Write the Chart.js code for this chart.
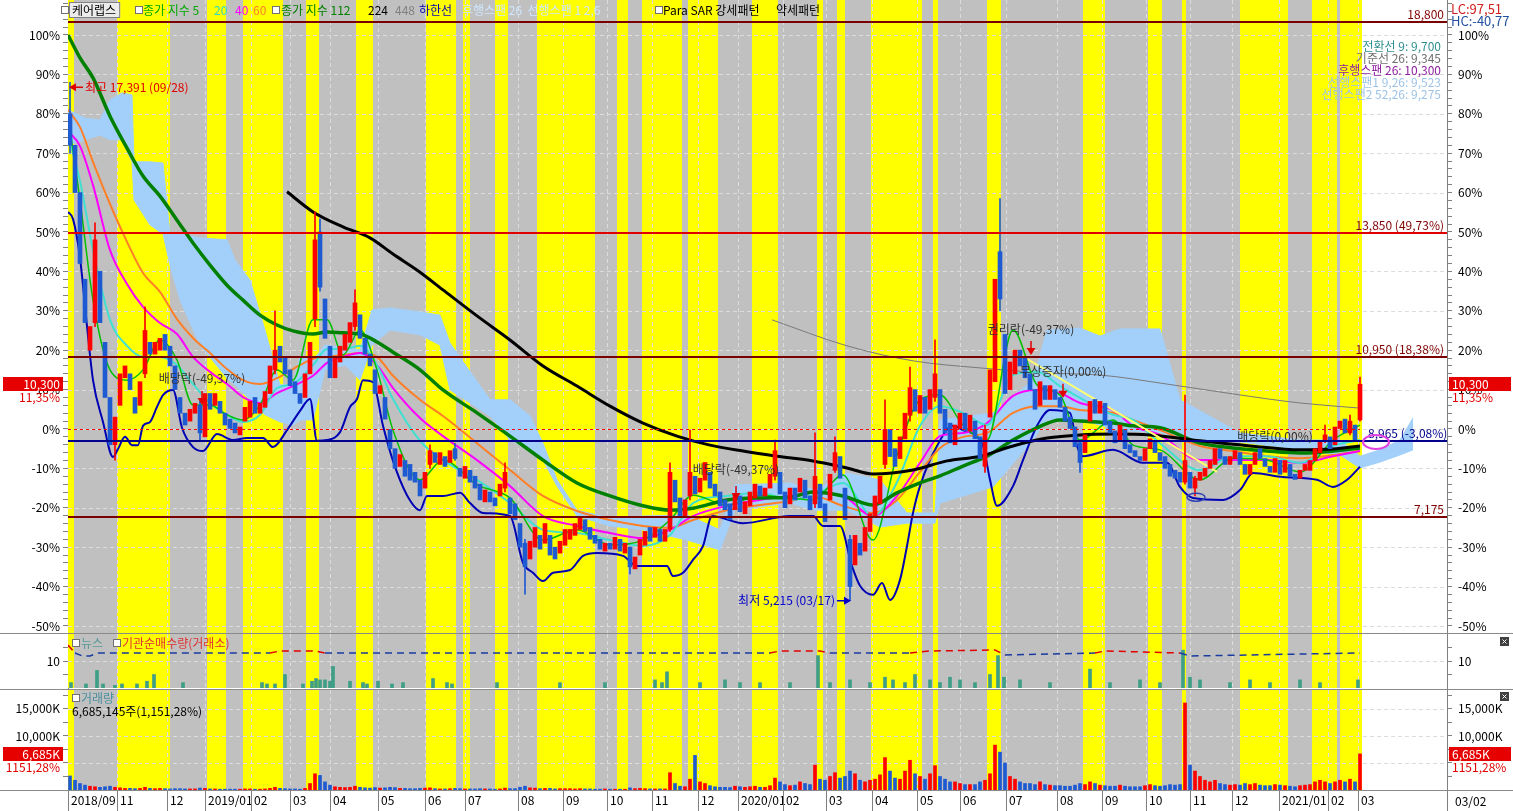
<!DOCTYPE html>
<html>
<head>
<meta charset="utf-8">
<title>케어랩스</title>
<script src="https://cdn.jsdelivr.net/npm/chart.js@4.4.1/dist/chart.umd.min.js"></script>
<style>
  html, body { margin:0; padding:0; background:#fff; }
  #wrap { position:relative; width:1513px; height:811px; overflow:hidden; background:#fff; }
  canvas { position:absolute; left:0; }
  #c1 { top:0; } #c2 { top:634px; } #c3 { top:689px; }
  .sep { position:absolute; left:0; width:1513px; height:1px; background:#8a8a8a; }
</style>
</head>
<body>
<div id="wrap">
  <canvas id="c1" width="1513" height="634"></canvas>
  <canvas id="c2" width="1513" height="55"></canvas>
  <canvas id="c3" width="1513" height="122"></canvas>
  <div class="sep" style="top:633px"></div>
  <div class="sep" style="top:689px"></div>
  <div class="sep" style="top:790px"></div>
</div>
<script>
// ---------------- DATA ----------------
const BASE_PRICE = 9250;          // 0% reference price (won)
const LAST_PRICE = 10300;
// x unit: one candle slot (~2.4 trading days); candle i sits at x = i
const MONTH_U   = [-0.4,9.4,19.4,27,36.2,44,52,61.6,71,79,89.6,98.6,107.4,116.4,125.6,133.6,142.6,151.2,160.4,169.4,178,187.2,197.4,206.4,215.2,224,232.4,241.8,251.6,257.6];
const MONTH_LBL = ['2018/09','11','12','2019/01','02','03','04','05','06','07','08','09','10','11','12','2020/01','02','03','04','05','06','07','08','09','10','11','12','2021/01','02','03'];
// Para SAR strong (yellow) / weak (gray) periods, alternating, starting strong
const BAND_EDGES = [-0.4,0.8,9.4,20,27.4,31.2,34.6,42.6,47.2,49.8,57.2,60.6,71.2,77.2,78.6,80,85,87.6,93.4,105,109.4,111.6,114.4,122.4,123.6,129.6,136.4,141.6,149.4,150.6,153.4,155,160.2,170.4,172.6,173.6,183.4,186.2,202.6,207,215.6,218.4,222.4,223.2,234,243.6,248.4,253.4,254,258.4];

// candles, % vs base price
const OPEN = [80,72,60,38,20,27,40,22,8,-4,
6,13,14,8,6,14,22,19,20,24,
21,16,8,4,2,4,6,-2,9,6,
7,4,2.5,1.5,-1.5,2,3,8,4,5.5,
9,15,21,18,15,12,9,8,14,28,
50,33,21,13,17,20,22,26,29,23,
19,15,9,8,0,-5,-9.5,-8,-9,-11,
-13,-15,-9,-6,-9,-7,-8.5,-5,-10,-12.5,
-10.5,-12,-14,-18.5,-16,-17.5,-17,-15,-17.5,-19,
-24,-29,-33,-30,-27,-29,-27,-30,-31.5,-29.5,
-28,-27,-25.5,-23,-25,-27,-28,-31,-29,-30.5,
-28,-31.5,-30,-35.5,-32,-29.5,-25,-27.5,-25.5,-28.5,
-25.5,-13,-17.5,-22,-17,-12,-16,-13,-11,-14,
-16,-18,-19,-20.5,-17,-21.5,-19.5,-17.5,-14.5,-17,
-15,-12,-11,-16,-19,-15,-16,-13,-17,-19,
-14,-19,-18,-10.5,-7,-15,-28,-34.5,-29,-31,
-26,-22,-19,-9,0,-5,-7.5,-2.5,3.5,10,
4,8,5,8,10,5,1.5,-4,0,4,
-0.5,2,-2,-9.5,3,12,45,24,10,14,
20,18,14,10,6,11,7.5,10,8,5.5,
3,0.5,-3.5,-6,2,7.5,4,6.5,2,-0.5,
-3,0,-4,-5.5,-7,-8,-5,-3,-6,-7,
-9,-10.5,-11,-13.5,-11,-15,-13,-12,-10,-9,
-5,-7,-9,-7.5,-6,-9,-11.5,-9,-5,-7.5,
-9.5,-11,-8,-11,-9,-11.5,-12.5,-10.5,-10.5,-8,
-6,-3,-2,-4,0,2.5,-1,1,2.3];
const CLOSE = [72,60,42,27,26,48,27,8,-4,3,
14,16,10,4,12,25,19,22,23,20,
16,10,4,1,5,6.5,-1,9,5,9,
4,1,0,-1,0.5,5.5,7,4,6.5,9.5,
16,20,17,14,11,9,6.5,14,22,48,
36,23,13,18,21,24,27,32,23,19,
16,9,11,2.5,-5,-10,-6.5,-12,-13,-13.5,
-17,-11,-5.5,-8.5,-6,-9.5,-5.5,-7.5,-12,-9.5,
-13.5,-15,-18,-15.5,-18.5,-19.5,-14,-11,-21.5,-23,
-30,-35,-28.5,-25,-30.5,-24,-32,-33,-28.5,-25.5,
-25.5,-24,-22.5,-26,-28,-29,-30.5,-29,-30.5,-27.5,
-31,-29,-35,-32.5,-28,-26,-28.5,-25,-28.5,-25.5,
-11,-18.5,-22,-18,-11,-16.5,-12.5,-8.5,-15,-17,
-19.5,-20.5,-23,-16.5,-21,-18.5,-16,-14,-17,-15,
-11.5,-5.5,-16.5,-20,-15,-18,-12.5,-17.5,-20.5,-12,
-20,-23.5,-11.5,-6,-12.5,-23,-40,-27,-32,-25,
-21.5,-17,-12,0,-7,-9.5,-2,4,10.5,4.5,
8.5,4,10,14,4,-1,-3.5,1,4,-0.5,
3.5,-2.5,-7.5,0,15,38,33,9,17,20,
16,13,10,5,12,7.5,11,7.5,5.5,2,
0,-4.5,-8.5,-1.5,7,4,7,1,-1,-3.5,
1,-5,-6,-7,-8,-5,-2.5,-6,-8,-10,
-12,-12.5,-13.5,-8,-15,-12.5,-11,-10,-8,-5,
-7.5,-9,-7,-5.5,-9,-11.5,-9,-6,-7.5,-9.5,
-11,-7.5,-11.5,-8,-12,-12.8,-10.5,-9,-8,-5,
-3,-1.5,-5,0.5,2,-1,2,-3,11.35];
// notable shadows: [candle, low, high]
const WICKS = [[0,70,88.0],[5,26,52.3],[9,-7.9,3],[15,13,31],[26,-3,7],[41,14,30],[49,26,55.1],[50,35,53.3],[57,25,35.3],[72,-10,-4],[77,-8,-3.6],[87,-16,-8.6],[91,-41.9,-28],[112,-36.8,-30],[120,-26,-8.6],[124,-18,-0.3],[141,-13,-2.8],[149,-20,-1],[153,-11,-2],[156,-43.6,-27],[163,-10,7.4],[168,2,15.7],[173,7,22.6],[183,-11,1],[186,30,58.5],[202,-11,-3],[223,-14,8.6],[225,-17,-12],[251,-3.5,1],[256,-1.5,3.5],[258,2,13.2]];
// volume, thousand shares
const VOLUME = [2600,1800,1200,900,700,600,500,600,700,500,
400,300,300,250,300,500,300,250,300,250,
200,250,250,200,200,200,350,300,200,200,
150,150,150,150,150,200,200,150,150,200,
300,500,300,250,200,200,150,300,1200,3000,
2700,1500,900,600,500,450,500,700,500,400,
350,450,350,400,500,450,300,300,250,250,
300,350,400,250,200,200,250,300,250,200,
200,200,250,200,200,150,200,350,250,250,
500,700,400,350,250,300,300,200,250,250,
250,200,250,200,200,150,150,200,150,150,
150,150,400,250,300,250,200,200,200,200,
3200,1200,700,600,2000,6400,1500,1200,800,600,
500,500,450,700,600,500,600,700,500,500,
800,2200,1500,1000,800,900,1500,1200,1000,4600,
2000,1800,2500,3200,2200,2500,3500,3000,1800,1500,
1800,2000,2800,6000,3500,2200,2000,3500,5500,3000,
2500,2000,3000,4500,2500,2000,1500,1500,1200,1000,
1000,1000,1500,1800,3000,8300,7000,5000,2500,2000,
1500,1200,1200,1000,1500,1000,900,800,800,700,
700,900,1200,1000,1500,1200,900,800,700,700,
900,700,600,600,600,800,1000,800,700,800,
1000,900,1000,16100,4600,3500,2500,1800,1500,1800,
1200,1000,900,1000,900,1200,1000,1200,900,800,
800,1000,900,800,700,600,800,900,1000,1500,
1800,1500,1200,1500,1800,1500,2000,1500,6685];

// moving averages (sampled), %
const MA_U   = [-0.4,2,4.6,8,11.4,14.6,18,21.4,24.6,28,31.4,34.6,38,41.4,44.6,48.6,51.4,54.6,58,61.4,64.6,70,74.6,81.4,88,94.6,101.4,108,114.6,120,124.6,131.4,138,144,148.6,154.6,160.6,165.4,170,174,178.6,183.4,188.6,193.4,198,202,208.6,212.6,218,226,232.6,239.4,246,252.6,258];
const MA5    = [79.7,58.1,32.7,15.0,12.4,15.0,22.6,17.5,6.1,6.1,3.6,2.3,6.1,15.0,12.4,27.7,27.7,18.8,25.1,15.0,-0.3,-12.9,-7.9,-14.2,-17.5,-28.2,-25.6,-29.4,-28.2,-23.1,-16.8,-19.3,-16.8,-17.5,-18.0,-11.7,-28.2,-6.6,7.4,8.6,1.0,-2.8,25.1,11.2,8.6,-2.8,2.3,-4.1,-5.3,-12.9,-7.4,-7.9,-10.9,-2.8,1.0];
const MA20   = [74.6,62.9,45.4,27.7,21.1,18.3,18.3,16.2,11.4,6.6,3.6,1.8,3.6,10.4,11.4,16.2,20.3,20.3,21.1,16.2,7.6,-3.0,-7.9,-12.9,-18.8,-25.6,-26.4,-28.2,-29.7,-26.9,-18.8,-17.0,-16.2,-18.0,-16.8,-13.7,-22.1,-13.5,0.8,5.8,4.1,1.0,13.7,14.5,10.9,7.9,3.6,2.3,-3.6,-10.4,-6.9,-6.9,-8.6,-4.3,-2.8];
const MA40   = [75.6,71.8,61.9,45.4,36.8,31.0,26.9,24.1,18.3,14.5,11.4,8.1,6.6,9.1,10.9,13.5,16.8,18.3,19.3,16.2,10.4,2.8,-1.8,-7.9,-14.5,-22.1,-24.6,-26.4,-27.7,-25.6,-22.1,-19.5,-18.0,-17.0,-16.2,-17.0,-22.1,-17.0,-8.6,-1.8,-1.0,1.5,8.4,9.9,9.1,6.6,4.8,0.8,-1.5,-7.9,-7.9,-7.9,-8.6,-6.9,-5.6];
const MA60   = [81.0,76.6,67.8,57.1,47.5,39.6,34.8,27.9,23.1,19.3,15.2,12.4,11.4,12.9,15.2,17.8,18.3,18.8,19.3,18.3,13.5,7.4,3.3,-3.6,-10.4,-17.0,-20.8,-23.1,-24.6,-25.1,-23.1,-20.6,-19.3,-18.3,-17.0,-19.5,-21.3,-18.0,-10.9,-4.8,-2.0,-1.0,4.1,5.8,5.8,4.8,4.1,2.3,-0.3,-4.3,-5.6,-6.9,-7.4,-6.6,-5.6];
const MA112  = [100,94.2,89.1,79.4,71.3,64.2,59.1,53.0,47.2,41.6,36.5,32.7,28.9,26.4,24.9,24.1,24.6,24.4,24.1,22.1,19.5,15.0,9.9,4.1,-1.8,-7.9,-13.7,-17.0,-19.5,-20.6,-20.1,-18.0,-17.5,-17.3,-16.0,-17.0,-19.3,-16.2,-13.7,-11.9,-9.4,-6.9,-2.8,0.3,2.3,2.0,1.5,0.8,0.3,-3.6,-4.8,-5.6,-6.1,-5.6,-4.8];
const MA224_U = [43.4,48.6,54.6,60,64.6,70,74.6,81.4,88,94.6,101.4,108,114.6,121.4,128,134.6,141.4,148.6,155.4,160.6,168.6,175.4,182,188.6,195.4,202,208.6,216,226,236,246,252.6,258];
const MA224   = [60.2,55.1,51.3,48.5,44.4,39.8,35.3,28.7,22.6,16.0,10.9,5.8,1.5,-1.8,-4.1,-5.6,-6.9,-8.1,-9.9,-11.4,-10.4,-8.1,-6.9,-4.3,-2.3,-1.5,-1.3,-1.5,-3.0,-4.3,-5.3,-5.1,-4.3];
const MA448_U = [140.4,155.4,168.6,182,195.4,206,219.4,232.6,246,258];
const MA448   = [27.7,21.1,17.3,15.5,14.2,13.7,11.4,8.9,6.6,5.3];
// lower band (하한선)
const LOW_U = [-0.4,0.6,2,3.4,4.6,6.6,8.6,9.6,11,12.4,13.6,14.6,16,17.4,18.6,20.6,22.4,24.6,26.6,29.4,32.6,35.4,38.6,40.6,43.4,46,48,49.4,51.4,54,56,57.4,58.6,60.6,62.6,64.6,67.4,70,71.4,74.6,78,80,82.6,88,90.6,92.6,94.6,96.6,100,102.6,105.4,110.6,113.4,119.4,120.6,122.6,124.6,126.6,128.4,134.6,144,148.6,150.6,154,156.4,158,160.6,162.4,164,166,167.4,168.6,170,173.4,176.6,178.6,182.6,184,185.4,188.6,190.6,193.4,196,200,201.4,202.6,208.6,214.6,219.4,222,224.6,230.6,234,236.6,242.6,249.4,252.6,255.4,258];
const LOW_V = [55.1,53.3,43.4,26.1,12.4,1.8,-7.1,-5.1,-2.0,-4.1,-4.1,0.8,1.8,5.6,8.6,9.9,0.3,-4.6,-5.6,-1.3,-2.8,-2.3,-2.3,-4.6,-0.3,4.6,7.6,-3.0,-2.8,-0.8,5.6,7.6,12.4,11.9,0.8,-8.1,-16.8,-20.6,-17.0,-17.0,-16.2,-18.8,-21.3,-22.1,-34.0,-36.5,-38.6,-36.5,-35.8,-32.2,-31.5,-32.2,-34.8,-34.8,-37.3,-36.5,-33.2,-29.7,-22.1,-23.9,-22.1,-22.1,-24.6,-24.6,-34.8,-39.8,-42.1,-39.1,-43.4,-38.3,-29.7,-21.3,-14.5,-4.3,0.8,-0.3,-4.3,-12.9,-19.5,-14.5,-7.9,0.8,4.8,4.1,-4.3,-6.9,-5.3,-8.6,-8.6,-14.7,-17.5,-18.0,-15.5,-11.2,-12.2,-12.9,-14.7,-12.9,-9.6];
// ichimoku cloud edges
const CLOUD_U  = [-0.4,3,6,8,10.4,12.4,12.8,16,18.6,20,22,26,31.4,33,36,39,42,44.6,46,48.6,51,55,58,60.4,64,70,74,76,84,88,92,94.6,97.4,101.4,108,114.6,123.4,130,133,144,149,155.4,162,167.4,173,174,184.6,192.6,195.4,202,206,210,218,222,234,246,254,258,262,266,268.6];
const CLOUD_HI = [81.0,78.9,78.4,83.5,85.3,84.8,67.8,67.8,67.5,49.5,49.5,48.5,48.0,42.9,37.8,25.1,11.2,11.2,18.3,17.5,21.3,20.6,20.1,30.2,30.7,29.7,28.9,21.8,7.4,7.4,3.3,-3.6,-12.9,-20.6,-22.6,-22.1,-21.8,-25.6,-14.2,-13.7,-15.5,-11.2,-12.9,-21.3,-21.3,2.3,4.1,12.4,25.1,25.6,23.6,25.4,25.4,7.4,-1.0,-2.8,-2.8,-6.9,-5.3,-2.8,2.8];
const CLOUD_LO = [72.1,73.4,74.6,73.4,73.4,67.8,58.1,51.8,49.5,41.6,32.7,21.3,12.9,11.2,7.4,3.6,1.8,1.0,2.3,2.3,15.0,16.2,12.4,21.3,25.1,23.9,21.3,9.9,3.3,-2.8,-5.3,-7.9,-14.5,-22.1,-24.6,-25.6,-28.2,-30.7,-20.6,-18.8,-20.6,-20.6,-24.9,-23.9,-23.9,-18.8,-14.7,-2.8,2.3,2.3,1.0,-0.3,-1.0,-2.3,-3.3,-5.3,-6.6,-9.9,-8.4,-6.6,-5.3];
const TREND_U = [188.4, 229.4];
const TREND_V = [20.05, -10.9];
// horizontal price levels
const HLINE_PRICES = [18800, 13850, 10950, 7175];
const HLINE_LABELS = ['18,800', '13,850 (49,73%)', '10,950 (18,38%)', '7,175'];
const SUPPORT_PRICE = 8965;
// news count & institutional net buying
const NEWS_U = [0.2,3.2,5.4,6.6,9,10.4,13.4,15.4,16.8,22.6,38.4,39.4,41,43,46.6,48.4,49.2,50,51,52,52.6,56,58.6,59.4,61.6,64.4,66.6,72.6,75.4,76.4,85.4,98,107,117,118.4,119.4,126,131,134,138,144,149.6,152,156,160,163,164.6,167,169,172,174,176,178,181,184,185.6,186.8,190,196,204,208,214,218,222.6,224,226,232,236,240,246,250,257.6];
const NEWS_V = [2,1.5,6.5,1.5,1,1.5,1.5,2.5,5,2,2,1.5,1.5,5,1.5,2.5,3.5,3,3,2.5,8,2.5,2,1.5,2.5,1.5,2,3.5,2,1.5,2,2,2,3,2,6,2,3,2,2,2,12,2,3,2,4,3,2,5,3,2,4,3,2,5,12,4,3,2,7,2,3,2,14,4,3,2,3,2,3,2,3];
const INST_U = [-0.4,1,2.5,4,5.5,40,42,49,51,100,140,142,150,152,168,172,185,187,205,207,222,224,258];
const INST_V = [8,0,-3,-3,0,0,2,2,0,0,0,2,2,0,0,2,3,-2,0,2,0,-3,0];

// ---------------- STYLE ----------------
const X_MIN = -0.4, X_MAX = 275.4;
const YEL = '#ffff00', GRY = '#c0c0c0', GRID_C = '#dcdcdc';
const RED = '#ff0000', BLUE = '#1e5ad2';
const FONT = "'Liberation Sans Narrow','Noto Sans CJK KR','Noto Sans',sans-serif";
Chart.defaults.font.family = FONT;
Chart.defaults.font.size = 12;
Chart.defaults.color = '#000';

const pct = p => (p / BASE_PRICE - 1) * 100;
const pts = (us, vs) => us.map((u, i) => ({x: u, y: vs[i]}));
const isUp = i => CLOSE[i] >= OPEN[i];

function txt(ctx, s, x, y, color, align, size) {
  ctx.font = (size || 12) + 'px ' + FONT;
  ctx.fillStyle = color; ctx.textAlign = align || 'left'; ctx.textBaseline = 'middle';
  ctx.fillText(s, x, y);
}
function hline(ctx, x0, x1, y) { ctx.beginPath(); ctx.moveTo(x0, y); ctx.lineTo(x1, y); ctx.stroke(); }
function vline(ctx, x, y0, y1) { ctx.beginPath(); ctx.moveTo(x, y0); ctx.lineTo(x, y1); ctx.stroke(); }
function sq(ctx, x, y) {
  ctx.fillStyle = '#fff'; ctx.fillRect(x, y - 4, 7, 7);
  ctx.strokeStyle = '#707070'; ctx.lineWidth = 1; ctx.strokeRect(x + 0.5, y - 3.5, 7, 7);
}
function closeBtn(ctx, x, y) {
  ctx.fillStyle = '#404040'; ctx.fillRect(x, y, 9, 9);
  ctx.strokeStyle = '#fff'; ctx.lineWidth = 1;
  ctx.beginPath(); ctx.moveTo(x + 2.5, y + 2.5); ctx.lineTo(x + 6.5, y + 6.5); ctx.moveTo(x + 6.5, y + 2.5); ctx.lineTo(x + 2.5, y + 6.5); ctx.stroke();
}

function bgPlugin(hVals) {
  return {
    id: 'bgbands',
    beforeDatasetsDraw(chart) {
      const {ctx, chartArea: a, scales} = chart;
      const x = scales.x, y = scales.y;
      ctx.save();
      ctx.beginPath(); ctx.rect(a.left, a.top, a.right - a.left, a.bottom - a.top); ctx.clip();
      for (let k = 0; k < BAND_EDGES.length - 1; k++) {
        const x0 = Math.round(x.getPixelForValue(BAND_EDGES[k]));
        const x1 = Math.round(x.getPixelForValue(BAND_EDGES[k + 1]));
        ctx.fillStyle = k % 2 === 0 ? YEL : GRY;
        ctx.fillRect(x0, a.top, x1 - x0, a.bottom - a.top);
      }
      ctx.strokeStyle = GRID_C; ctx.lineWidth = 1; ctx.setLineDash([4, 3]);
      hVals.forEach(v => { const py = Math.round(y.getPixelForValue(v)) + 0.5; hline(ctx, a.left, a.right, py); });
      MONTH_U.slice(1).forEach(u => { const px = Math.round(x.getPixelForValue(u)) + 0.5; vline(ctx, px, a.top, a.bottom); });
      ctx.restore();
    }
  };
}

function yAxis(pos, min, max, tickVals, labelFn, width, pad) {
  return {
    position: pos, min, max,
    afterFit: s => { s.width = width; s.paddingTop = 0; s.paddingBottom = 0; },
    afterBuildTicks: s => { s.ticks = tickVals.map(v => ({value: v})); },
    grid: { drawOnChartArea: false, drawTicks: true, tickLength: 5, color: '#808080' },
    border: { display: true, color: '#808080' },
    ticks: { autoSkip: false, padding: pad, callback: labelFn, color: '#000', font: { size: 12 } }
  };
}

const PCT_TICKS = [];
for (let v = -50; v <= 108; v += 2) PCT_TICKS.push(v);
const pctLabel = v => (Math.abs(v % 10) < 1e-6 ? v + '%' : '');
const PCT_GRID = [-50, -40, -30, -20, -10, 0, 10, 20, 30, 40, 50, 60, 70, 80, 90, 100];

// ---------------- MAIN PANEL ----------------
const lineDs = (label, data, color, width, order) => ({
  type: 'line', label, data, borderColor: color, borderWidth: width, pointRadius: 0,
  fill: false, order, cubicInterpolationMode: 'monotone', yAxisID: 'y'
});

const mainPlugins = [bgPlugin(PCT_GRID), {
  id: 'levels',
  afterDatasetsDraw(chart) {
    const {ctx, chartArea: a, scales: {x, y}} = chart;
    const lastX = x.getPixelForValue(CLOSE.length - 1);
    ctx.save();
    ctx.strokeStyle = '#ff0000'; ctx.lineWidth = 1; ctx.setLineDash([3, 3]);
    hline(ctx, a.left, lastX, Math.round(y.getPixelForValue(0)) + 0.5);
    ctx.setLineDash([]);
    HLINE_PRICES.forEach((p, k) => {
      const py = Math.round(y.getPixelForValue(pct(p)));
      ctx.strokeStyle = k === 1 ? '#e00000' : '#7a0000'; ctx.lineWidth = 2;
      hline(ctx, a.left, a.right, py);
      txt(ctx, HLINE_LABELS[k], a.right - 3, py - 8, '#800000', 'right');
    });
    const ps = Math.round(y.getPixelForValue(pct(SUPPORT_PRICE)));
    ctx.strokeStyle = '#00008c'; ctx.lineWidth = 2;
    hline(ctx, a.left, a.right, ps);
    txt(ctx, '8,965 (-3,08%)', lastX + 8, ps - 8, '#00008c', 'left');
    // markers
    ctx.lineWidth = 2; ctx.strokeStyle = '#e040e0';
    ctx.beginPath(); ctx.ellipse(x.getPixelForValue(261.2), y.getPixelForValue(-3.3), 13, 7, 0, 0, Math.PI * 2); ctx.stroke();
    ctx.lineWidth = 1.5; ctx.strokeStyle = '#3040b0';
    ctx.beginPath(); ctx.ellipse(x.getPixelForValue(225.2), y.getPixelForValue(-17.3), 9, 4, 0, 0, Math.PI * 2); ctx.stroke();
    ctx.restore();
  },
  afterDraw(chart) {
    const {ctx, chartArea: a, scales: {x, y}} = chart;
    ctx.save();
    // legend row
    sq(ctx, 61, 10);
    ctx.font = '12px ' + FONT;
    const wk = ctx.measureText('케어랩스').width;
    ctx.fillStyle = '#ececec'; ctx.fillRect(69, 2, wk + 7, 16);
    ctx.strokeStyle = '#808080'; ctx.lineWidth = 1; ctx.strokeRect(69.5, 2.5, wk + 6, 15);
    txt(ctx, '케어랩스', 72, 10, '#000');
    sq(ctx, 135, 10);
    txt(ctx, '종가 지수 5', 143, 10, '#00a800');
    txt(ctx, '20', 214, 10, '#30d8c8');
    txt(ctx, '40', 235, 10, '#ff00ff');
    txt(ctx, '60', 253, 10, '#ff7f27');
    sq(ctx, 272, 10);
    txt(ctx, '종가 지수 112', 281, 10, '#008000');
    txt(ctx, '224', 368, 10, '#000');
    txt(ctx, '448', 395, 10, '#808080');
    txt(ctx, '하한선', 419, 10, '#0000b4');
    txt(ctx, '후행스팬 26  선행스팬 1 2,6', 462, 10, '#cfe6ff');
    sq(ctx, 655, 10);
    txt(ctx, 'Para SAR 강세패턴', 663, 10, '#000');
    txt(ctx, '약세패턴', 776, 10, '#000');
    // ichimoku values
    txt(ctx, '전환선 9: 9,700', 1441, 46, '#2f8f8f', 'right');
    txt(ctx, '기준선 26: 9,345', 1441, 58, '#707070', 'right');
    txt(ctx, '후행스팬 26: 10,300', 1441, 70, '#9020a0', 'right');
    txt(ctx, '선행스팬1 9,26: 9,523', 1441, 82, '#9fc3e6', 'right');
    txt(ctx, '선행스팬2 52,26: 9,275', 1441, 94, '#9fc3e6', 'right');
    txt(ctx, 'LC:97,51', 1451, 9, '#d02020', 'left', 13);
    txt(ctx, 'HC:-40,77', 1451, 21, '#2050a0', 'left', 13);
    // high / low marks
    const hx = x.getPixelForValue(0) - 1, hy = y.getPixelForValue(88.0) + 5;
    ctx.fillStyle = '#e00000';
    ctx.beginPath(); ctx.moveTo(hx, hy); ctx.lineTo(hx + 7, hy - 4); ctx.lineTo(hx + 7, hy + 4); ctx.closePath(); ctx.fill();
    ctx.strokeStyle = '#e00000'; ctx.lineWidth = 1.5; hline(ctx, hx + 7, hx + 14, hy);
    txt(ctx, '최고 17,391 (09/28)', hx + 16, hy, '#e00000');
    const lx = x.getPixelForValue(156) + 1, ly = y.getPixelForValue(-43.6);
    ctx.fillStyle = '#0000c8';
    ctx.beginPath(); ctx.moveTo(lx, ly); ctx.lineTo(lx - 7, ly - 4); ctx.lineTo(lx - 7, ly + 4); ctx.closePath(); ctx.fill();
    ctx.strokeStyle = '#0000c8'; hline(ctx, lx - 14, lx - 7, ly);
    txt(ctx, '최저 5,215 (03/17)', lx - 16, ly, '#0000c8', 'right');
    // event arrows
    const EVENTS = [[26.4, 6.1, '배당락(-49,37%)', 27, true], [133.2, -18.0, '배당락(-49,37%)', 30, true],
                    [192.2, 18.8, '권리락(-49,37%)', 25, true], [198.6, 7.9, '무상증자(0,00%)', 26, true],
                    [241, -2.0, '배당락(0,00%)', 0, false]];
    EVENTS.forEach(([u, v, s, dy, arrow]) => {
      const px = x.getPixelForValue(u), py = y.getPixelForValue(v);
      if (arrow) {
        ctx.strokeStyle = '#e00000'; ctx.lineWidth = 1.5; vline(ctx, px, py - 14, py - 6);
        ctx.fillStyle = '#e00000';
        ctx.beginPath(); ctx.moveTo(px - 4.5, py - 7); ctx.lineTo(px + 4.5, py - 7); ctx.lineTo(px, py); ctx.closePath(); ctx.fill();
      }
      txt(ctx, s, px, py - dy, '#303030', 'center');
    });
    // last price tags
    const pp = Math.round(y.getPixelForValue(pct(LAST_PRICE)));
    ctx.fillStyle = '#e60000';
    ctx.fillRect(3, pp - 7, 60, 14); ctx.fillRect(1449, pp - 7, 62, 14);
    txt(ctx, '10,300', 60, pp, '#fff', 'right');
    txt(ctx, '11,35%', 60, pp + 13, '#e00000', 'right');
    txt(ctx, '10,300', 1452, pp, '#fff', 'left');
    txt(ctx, '11,35%', 1452, pp + 13, '#e00000', 'left');
    ctx.restore();
  }
}];

new Chart(document.getElementById('c1'), {
  type: 'bar',
  data: { datasets: [
    { type: 'line', label: 'span1', data: pts(CLOUD_U, CLOUD_HI), borderColor: '#a3d0fa', borderWidth: 1, backgroundColor: '#a3d0fa', fill: '+1', pointRadius: 0, tension: 0, order: 30, yAxisID: 'y' },
    { type: 'line', label: 'span2', data: pts(CLOUD_U, CLOUD_LO), borderColor: '#a3d0fa', borderWidth: 1, fill: false, pointRadius: 0, tension: 0, order: 31, yAxisID: 'y' },
    lineDs('448', pts(MA448_U, MA448), '#7a7a7a', 1, 12),
    lineDs('하한선', pts(LOW_U, LOW_V), '#0000b4', 2, 11),
    lineDs('60', pts(MA_U, MA60), '#ff7f27', 2, 10),
    lineDs('40', pts(MA_U, MA40), '#ff00ff', 2, 9),
    lineDs('20', pts(MA_U, MA20), '#40e0d0', 2, 8),
    lineDs('5', pts(MA_U, MA5), '#00c000', 1.5, 7),
    lineDs('112', pts(MA_U, MA112), '#008000', 3.5, 6),
    lineDs('224', pts(MA224_U, MA224), '#000000', 3, 5),
    lineDs('trend', pts(TREND_U, TREND_V), '#ffff70', 2, 4),
    { type: 'bar', label: 'wick', data: WICKS.map(([i, lo, hi]) => ({x: i, y: [lo, hi]})), backgroundColor: WICKS.map(([i]) => isUp(i) ? RED : BLUE), barThickness: 1, grouped: false, order: 1, yAxisID: 'y' },
    { type: 'bar', label: 'candle', data: OPEN.map((o, i) => ({x: i, y: [o, CLOSE[i]]})), backgroundColor: OPEN.map((o, i) => isUp(i) ? RED : BLUE), barThickness: 4, grouped: false, order: 0, yAxisID: 'y' }
  ]},
  options: {
    responsive: false, animation: false, events: [],
    layout: { padding: { top: 0, bottom: 1, left: 0, right: 0 } },
    plugins: { legend: { display: false }, tooltip: { enabled: false } },
    scales: {
      x: { type: 'linear', min: X_MIN, max: X_MAX, display: false, offset: false },
      y: yAxis('left', -51.78, 108.88, PCT_TICKS, pctLabel, 68, 3),
      yR: yAxis('right', -51.78, 108.88, PCT_TICKS, pctLabel, 66, 6)
    }
  },
  plugins: mainPlugins
});

// ---------------- NEWS / INSTITUTION PANEL ----------------
new Chart(document.getElementById('c2'), {
  type: 'bar',
  data: { datasets: [
    { type: 'bar', label: '뉴스', data: pts(NEWS_U, NEWS_V), backgroundColor: '#3f9f86', barThickness: 3, grouped: false, order: 1, yAxisID: 'y' },
    { type: 'line', label: '기관순매수량', data: pts(INST_U, INST_V), borderColor: '#1a3aa0', borderWidth: 1.5, borderDash: [7, 5], pointRadius: 0, tension: 0, order: 0, yAxisID: 'yi',
      segment: { borderColor: c => (c.p0.parsed.y + c.p1.parsed.y) > 0 ? '#e00000' : '#1a3aa0' } }
  ]},
  options: {
    responsive: false, animation: false, events: [],
    layout: { padding: { top: 0, bottom: 1, left: 0, right: 0 } },
    plugins: { legend: { display: false }, tooltip: { enabled: false } },
    scales: {
      x: { type: 'linear', min: X_MIN, max: X_MAX, display: false, offset: false },
      y: yAxis('left', 0, 20, [5, 10, 15], v => (v === 10 ? '10' : ''), 68, 3),
      yR: yAxis('right', 0, 20, [5, 10, 15], v => (v === 10 ? '10' : ''), 66, 6),
      yi: { display: false, min: -35, max: 19 }
    }
  },
  plugins: [bgPlugin([10]), {
    id: 'p2text',
    afterDraw(chart) {
      const ctx = chart.ctx;
      ctx.save();
      sq(ctx, 72, 9); txt(ctx, '뉴스', 81, 9, '#5a9a9a');
      sq(ctx, 113, 9); txt(ctx, '기관순매수량(거래소)', 122, 9, '#e03030');
      closeBtn(ctx, 1500, 3);
      ctx.restore();
    }
  }]
});

// ---------------- VOLUME PANEL ----------------
const VOL_TICKS = [2500, 5000, 7500, 10000, 12500, 15000, 17500];
const volLabel = v => (v === 10000 || v === 15000 ? v.toLocaleString('en-US') + 'K' : '');
new Chart(document.getElementById('c3'), {
  type: 'bar',
  data: { datasets: [
    { type: 'bar', label: '거래량', data: VOLUME.map((v, i) => ({x: i, y: v})), backgroundColor: VOLUME.map((v, i) => isUp(i) ? RED : BLUE), barThickness: 3, grouped: false, yAxisID: 'y' }
  ]},
  options: {
    responsive: false, animation: false, events: [],
    layout: { padding: { top: 1, bottom: 0, left: 0, right: 0 } },
    plugins: { legend: { display: false }, tooltip: { enabled: false } },
    scales: {
      x: { type: 'linear', min: X_MIN, max: X_MAX, offset: false, position: 'bottom',
           afterBuildTicks: s => { s.ticks = MONTH_U.map(v => ({value: v})); },
           afterFit: s => { s.height = 21; s.paddingLeft = 0; s.paddingRight = 0; },
           grid: { display: false, drawTicks: false },
           border: { display: true, color: '#808080' },
           ticks: { autoSkip: false, maxRotation: 0, minRotation: 0, align: 'start', labelOffset: 3, padding: 3,
                    callback: (v, i) => MONTH_LBL[i] || '', color: '#000', font: { size: 12 } } },
      y: yAxis('left', 0, 18500, VOL_TICKS, volLabel, 68, 3),
      yR: yAxis('right', 0, 18500, VOL_TICKS, volLabel, 66, 6)
    }
  },
  plugins: [bgPlugin([5000, 10000, 15000]), {
    id: 'p3text',
    afterDraw(chart) {
      const {ctx, chartArea: a, scales: {x, y}} = chart;
      ctx.save();
      ctx.strokeStyle = '#808080'; ctx.lineWidth = 1;
      MONTH_U.forEach(u => { const px = Math.round(x.getPixelForValue(u)) + 0.5; vline(ctx, px, a.bottom, chart.height); });
      vline(ctx, Math.round(a.right) + 0.5, a.bottom, chart.height);
      txt(ctx, '03/02', 1455, a.bottom + 11, '#000');
      sq(ctx, 72, 9); txt(ctx, '거래량', 81, 9, '#4a8fa0');
      txt(ctx, '6,685,145주(1,151,28%)', 72, 22, '#000');
      closeBtn(ctx, 1500, 3);
      const pv = Math.round(y.getPixelForValue(VOLUME[VOLUME.length - 1]));
      ctx.fillStyle = '#e60000';
      ctx.fillRect(3, pv - 7, 60, 14); ctx.fillRect(1449, pv - 7, 62, 14);
      txt(ctx, '6,685K', 60, pv, '#fff', 'right');
      txt(ctx, '1151,28%', 60, pv + 13, '#e00000', 'right');
      txt(ctx, '6,685K', 1452, pv, '#fff', 'left');
      txt(ctx, '1151,28%', 1452, pv + 13, '#e00000', 'left');
      ctx.restore();
    }
  }]
});
</script>
</body>
</html>
